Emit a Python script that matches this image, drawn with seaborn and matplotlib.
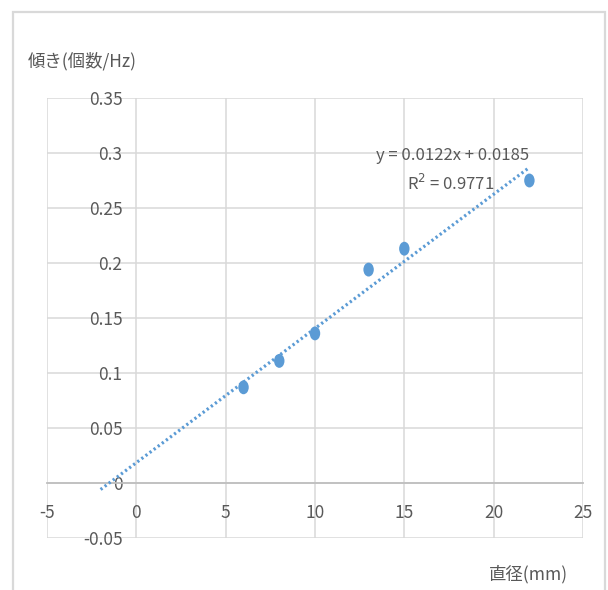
import numpy as np
import pandas as pd
import matplotlib
matplotlib.use("Agg")
import matplotlib.pyplot as plt
from matplotlib.patches import Rectangle
from matplotlib.path import Path
import seaborn as sns

# data
diameter_mm = [6, 8, 10, 13, 15, 22]
slope_per_hz = [0.087, 0.111, 0.136, 0.194, 0.213, 0.275]

# Excel trendline shown on the chart (backward forecast to x=-2)
trend_slope = 0.0122
trend_intercept = 0.0185
trend_r2 = 0.9771
trend_start = -2

x_ticks = [-5, 0, 5, 10, 15, 20, 25]
y_ticks = [-0.05, 0, 0.05, 0.1, 0.15, 0.2, 0.25, 0.3, 0.35]
y_tick_labels = ["-0.05", "0", "0.05", "0.1", "0.15", "0.2", "0.25", "0.3", "0.35"]

blue = "#5B9BD5"
grid_c = "#D9D9D9"
text_c = "#595959"

sns.set_theme(style="white")
plt.rcParams["font.family"] = ["Noto Sans CJK JP", "DejaVu Sans"]
plt.rcParams["axes.unicode_minus"] = False

df = pd.DataFrame({"x": diameter_mm, "y": slope_per_hz})
tx = np.array([trend_start, max(diameter_mm)], dtype=float)
trend = pd.DataFrame({"x": tx, "y": trend_slope * tx + trend_intercept})

# the source image is squeezed sideways, so markers are slightly oval
circ = Path.unit_circle()
oval = Path(circ.vertices * [0.75, 1.0], circ.codes)

fig = plt.figure(figsize=(6.08, 5.90), dpi=100)
ax = fig.add_axes([47 / 608, 1 - 538 / 590, (583 - 47) / 608, (538 - 98) / 590])

sns.lineplot(data=trend, x="x", y="y", ax=ax, color=blue, lw=2.3,
             linestyle=(0, (0.7, 0.9)), zorder=3)
sns.scatterplot(data=df, x="x", y="y", ax=ax, color=blue, s=100, marker=oval,
                edgecolor="none", zorder=4)

ax.set_xlim(-5, 25)
ax.set_ylim(-0.05, 0.35)
ax.set_xticks(x_ticks)
ax.set_xticklabels([str(v) for v in x_ticks])
ax.set_yticks(y_ticks)
ax.set_yticklabels(y_tick_labels)
ax.set_xlabel("")
ax.set_ylabel("")

ax.grid(True, color=grid_c, lw=1.1)
for gl in ax.get_xgridlines() + ax.get_ygridlines():
    gl.set_clip_on(False)
ax.set_axisbelow(True)

for s in ["top", "right"]:
    ax.spines[s].set_visible(False)
ax.spines["left"].set_position(("data", 0))
ax.spines["left"].set_visible(False)
ax.spines["bottom"].set_position(("data", 0))
ax.spines["bottom"].set_color("#BFBFBF")
ax.spines["bottom"].set_linewidth(1.3)

ax.tick_params(axis="y", length=0, pad=10, labelsize=12.5, labelcolor=text_c)
ax.tick_params(axis="x", length=0, pad=15, labelsize=12.5, labelcolor=text_c)

fig.text(453 / 608, 1 - 155 / 590, f"y = {trend_slope}x + {trend_intercept}",
         fontsize=12, color=text_c, ha="center", va="center")
fig.text(451 / 608, 1 - 184 / 590, f"R$^2$ = {trend_r2}",
         fontsize=12, color=text_c, ha="center", va="center")

fig.text(28 / 608, 1 - 61 / 590, "傾き(個数/Hz)", fontsize=12.5, color=text_c,
         ha="left", va="center")
fig.text(568 / 608, 1 - 574 / 590, "直径(mm)", fontsize=12.5, color=text_c,
         ha="right", va="center")

fig.patches.append(Rectangle((13 / 608, -0.05), (605 - 13) / 608, 1.05 - 12 / 590,
                             transform=fig.transFigure, fill=False,
                             edgecolor="#D9D9D9", lw=1.6))

fig.savefig("out.png", dpi=100)
